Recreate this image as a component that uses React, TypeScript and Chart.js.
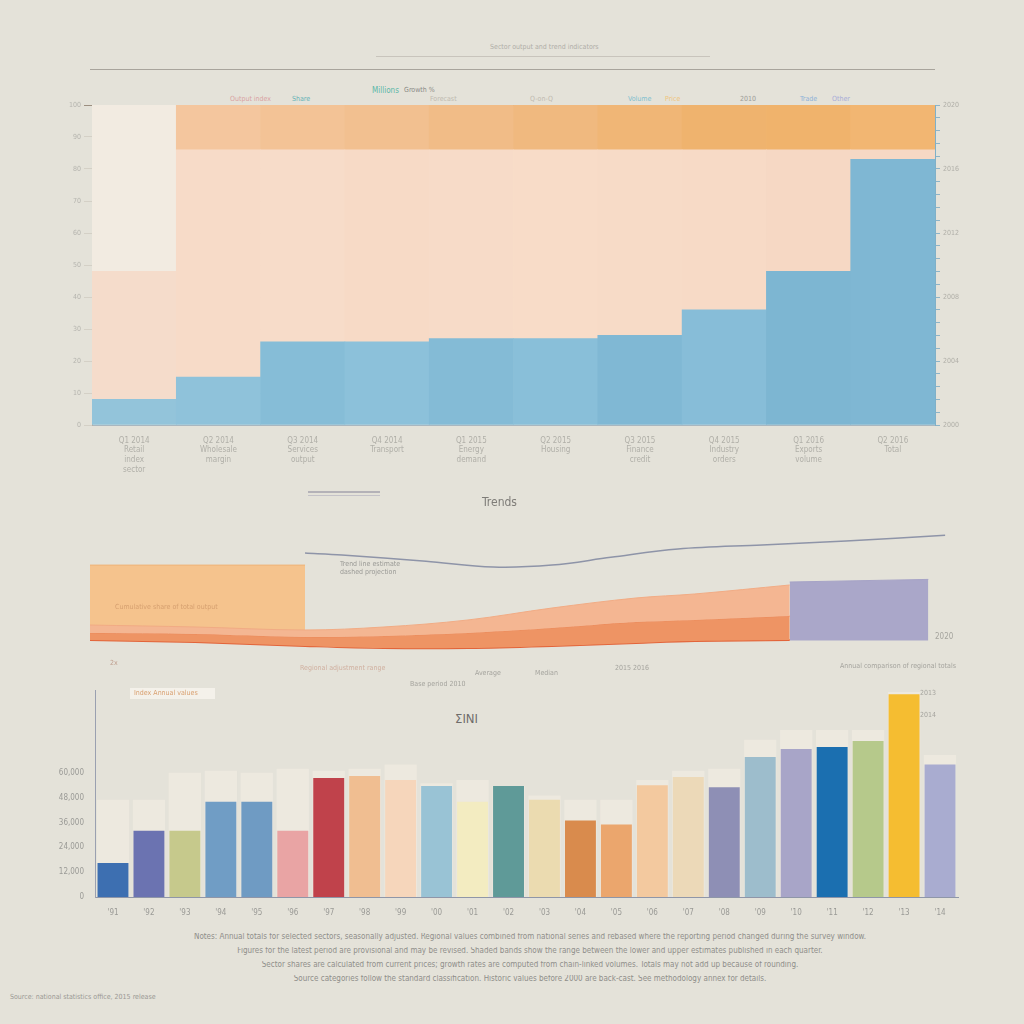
import React, { useEffect, useRef } from "react";
import { Chart, registerables } from "chart.js";

Chart.register(...registerables);

const FONT = "'DejaVu Sans Condensed', 'Liberation Sans Narrow', 'DejaVu Sans', sans-serif";
const BG = "#e4e2d9";

// ---------- Chart 1 (stacked bands) ----------
const topCategories = [
  ["Q1 2014", "Retail", "index", "sector"],
  ["Q2 2014", "Wholesale", "margin"],
  ["Q3 2014", "Services", "output"],
  ["Q4 2014", "Transport"],
  ["Q1 2015", "Energy", "demand"],
  ["Q2 2015", "Housing"],
  ["Q3 2015", "Finance", "credit"],
  ["Q4 2015", "Industry", "orders"],
  ["Q1 2016", "Exports", "volume"],
  ["Q2 2016", "Total"],
];
const blueBase = [8, 15, 26, 26, 27, 27, 28, 36, 48, 83];
const peachMid = [40, 71, 60, 60, 59, 59, 58, 50, 38, 3];
const orangeTop = [52, 14, 14, 14, 14, 14, 14, 14, 14, 14];
const blueColors = ["#93c4da", "#8fc2da", "#86bdd7", "#8cc1da", "#84bbd6", "#89bfd9", "#80b8d4", "#87bdd8", "#7db6d2", "#7fb7d3"];
const peachColors = ["#f5dccb", "#f7dbc8", "#f7dcc9", "#f7dac6", "#f7dbc8", "#f8dcc8", "#f7dbc7", "#f7dac6", "#f6d8c4", "#f6d8c4"];
const topColors = ["#f2ebe1", "#f4c69e", "#f3c396", "#f2c090", "#f1bc87", "#f0b97f", "#f0b676", "#efb36e", "#f0b36c", "#f2b672"];

// ---------- Chart 2 (flow bands) ----------
const blockLeftX = [0, 25.6];
const blockLeftY = [73, 73];
const blockLeftBase = 23;
const blockRightX = [83.3, 99.8];
const blockRightY = [60, 62];
const blockRightBase = 15;
const flowX = [0, 12.5, 25.6, 35, 45, 55, 65, 72, 83.3];
const flowTop = [26.9, 25.4, 23.1, 25.4, 30.8, 40, 47.7, 50.8, 57.7];
const flowMid = [20.8, 20, 17.7, 18.5, 20.8, 24.6, 29.2, 30.8, 33.8];
const flowBottom = [15.4, 13.8, 10.8, 9.2, 9.2, 10.8, 13.1, 14.6, 15.4];
const trendX = [25.6, 30, 40, 48, 55, 62, 70, 80, 90, 101.8];
const trendY = [82.3, 80.8, 76, 71.5, 73, 79, 85.4, 88.5, 91.5, 96];

// ---------- Chart 3 (bars) ----------
const barLabels = ["'91", "'92", "'93", "'94", "'95", "'96", "'97", "'98", "'99", "'00", "'01", "'02", "'03", "'04", "'05", "'06", "'07", "'08", "'09", "'10", "'11", "'12", "'13", "'14"];
const barValues = [16.4, 32, 32, 46, 46, 32, 57.5, 58.5, 56.5, 53.6, 46, 53.6, 47, 37, 35, 54, 58, 53, 67.6, 71.5, 72.5, 75.4, 98, 64];
const ghostValues = [47, 47, 60, 61, 60, 62, 61, 62, 64, 55, 56.5, 53.6, 49, 47, 47, 56.5, 61, 62, 76, 80.7, 80.7, 80.7, 99, 68.6];
const barColors = ["#3d6fb1", "#6b73b1", "#c6c98c", "#709dc5", "#6f9bc3", "#e9a4a4", "#c0424b", "#f0be91", "#f6d6bb", "#99c3d5", "#f3ecc1", "#5f9a98", "#ebdbb0", "#d98b4d", "#eba66d", "#f3c99f", "#ecd9b8", "#8e8fb5", "#9dbdcc", "#a8a5c8", "#1b6fb0", "#b6c98b", "#f5bd31", "#a9acd0"];
const bar3Ticks = ["0", "12,000", "24,000", "36,000", "48,000", "60,000"];

const notes = [
  "Notes: Annual totals for selected sectors, seasonally adjusted. Regional values combined from national series and rebased where the reporting period changed during the survey window.",
  "Figures for the latest period are provisional and may be revised. Shaded bands show the range between the lower and upper estimates published in each quarter.",
  "Sector shares are calculated from current prices; growth rates are computed from chain-linked volumes. Totals may not add up because of rounding.",
  "Source categories follow the standard classification. Historic values before 2000 are back-cast.                     See methodology annex for details.",
];

function useChart(ref: React.RefObject<HTMLCanvasElement | null>, make: () => any) {
  useEffect(() => {
    if (!ref.current) return;
    const chart = new Chart(ref.current, make());
    return () => chart.destroy();
  }, []);
}

function TopChart() {
  const ref = useRef<HTMLCanvasElement | null>(null);
  useChart(ref, () => ({
    type: "bar",
    data: {
      labels: topCategories,
      datasets: [
        { label: "Base", data: blueBase, backgroundColor: blueColors, borderWidth: 0 },
        { label: "Middle", data: peachMid, backgroundColor: peachColors, borderWidth: 0 },
        { label: "Top", data: orangeTop, backgroundColor: topColors, borderWidth: 0 },
      ],
    },
    options: {
      responsive: false,
      animation: false,
      layout: { padding: { top: 10 } },
      plugins: { legend: { display: false }, tooltip: { enabled: false } },
      datasets: { bar: { barPercentage: 1, categoryPercentage: 1 } },
      scales: {
        x: {
          stacked: true,
          grid: { display: false },
          border: { color: "#a9b7c0" },
          ticks: { color: "#b0afa8", font: { family: FONT, size: 8 }, maxRotation: 0, autoSkip: false },
          afterFit: (s: any) => { s.height = 70; },
        },
        y: {
          stacked: true,
          min: 0,
          max: 100,
          grid: { color: (c: any) => (c.tick && c.tick.value === 100 ? "#9c8f80" : "rgba(175,165,155,0.3)") },
          border: { color: "#b4b0a8" },
          ticks: { stepSize: 10, color: "#b5b4ae", font: { family: FONT, size: 7 } },
          afterFit: (s: any) => { s.width = 40; },
        },
        y2: {
          position: "right",
          min: 0,
          max: 100,
          grid: { drawOnChartArea: false, tickLength: 5, color: "#8db4c8" },
          border: { color: "#7fb0c8" },
          ticks: {
            stepSize: 4,
            autoSkip: false,
            color: "#b0afa8",
            font: { family: FONT, size: 7 },
            callback: (v: any) => (v % 20 === 0 ? String(2000 + v / 5) : ""),
          },
          afterFit: (s: any) => { s.width = 50; },
        },
      },
    },
  }));
  return <canvas ref={ref} width={933} height={400} style={{ position: "absolute", left: 52, top: 95, width: 933, height: 400 }} />;
}

function FlowChart() {
  const ref = useRef<HTMLCanvasElement | null>(null);
  const pts = (xs: number[], ys: number[]) => xs.map((x, i) => ({ x, y: ys[i] }));
  useChart(ref, () => ({
    type: "line",
    data: {
      datasets: [
        { label: "Trend", data: pts(trendX, trendY), borderColor: "#8e94a8", borderWidth: 1.5, pointRadius: 0, fill: false, tension: 0.35, clip: false },
        { label: "Upper", data: pts(flowX, flowTop), borderColor: "#f1ab84", borderWidth: 1, backgroundColor: "#f4b692", pointRadius: 0, fill: "+1", tension: 0.35 },
        { label: "Middle", data: pts(flowX, flowMid), borderColor: "#ec8a5a", borderWidth: 1, backgroundColor: "#ee9464", pointRadius: 0, fill: "+1", tension: 0.35 },
        { label: "Lower", data: pts(flowX, flowBottom), borderColor: "#e2643a", borderWidth: 2, pointRadius: 0, fill: false, tension: 0.35 },
        { label: "Block A", data: pts(blockLeftX, blockLeftY), borderColor: "#eeb277", borderWidth: 1, backgroundColor: "#f5c38d", pointRadius: 0, fill: { value: blockLeftBase } },
        { label: "Block B", data: pts(blockRightX, blockRightY), borderColor: "#a6a3c6", borderWidth: 1, backgroundColor: "#aaa7c9", pointRadius: 0, fill: { value: blockRightBase } },
      ],
    },
    options: {
      responsive: false,
      animation: false,
      layout: { padding: { left: 10, right: 30, top: 10, bottom: 10 } },
      plugins: { legend: { display: false }, tooltip: { enabled: false } },
      scales: {
        x: { type: "linear", min: 0, max: 100, display: false },
        y: { min: 0, max: 100, display: false },
      },
    },
  }));
  return <canvas ref={ref} width={880} height={150} style={{ position: "absolute", left: 80, top: 520, width: 880, height: 150 }} />;
}

function BarChart() {
  const ref = useRef<HTMLCanvasElement | null>(null);
  useChart(ref, () => ({
    type: "bar",
    data: {
      labels: barLabels,
      datasets: [
        { label: "Value", data: barValues, backgroundColor: barColors, borderWidth: 0, order: 1, grouped: false, barPercentage: 0.86, categoryPercentage: 1 },
        { label: "Range", data: ghostValues, backgroundColor: "rgba(245,240,230,0.5)", borderWidth: 0, order: 2, grouped: false, barPercentage: 0.9, categoryPercentage: 1 },
      ],
    },
    options: {
      responsive: false,
      animation: false,
      layout: { padding: { top: 10, right: 12 } },
      plugins: { legend: { display: false }, tooltip: { enabled: false } },
      scales: {
        x: {
          grid: { display: false },
          border: { color: "#8f96a8" },
          ticks: { color: "#9a9a96", font: { family: FONT, size: 8 }, maxRotation: 0, autoSkip: false },
          afterFit: (s: any) => { s.height = 25; },
        },
        y: {
          min: 0,
          max: 100,
          grid: { display: false },
          border: { color: "#9aa0b0" },
          ticks: {
            stepSize: 12,
            color: "#9a9a96",
            font: { family: FONT, size: 8 },
            callback: (v: any) => (v <= 60 ? bar3Ticks[v / 12] : ""),
          },
          afterFit: (s: any) => { s.width = 55; },
        },
      },
    },
  }));
  return <canvas ref={ref} width={930} height={242} style={{ position: "absolute", left: 40, top: 680, width: 930, height: 242 }} />;
}

const small = (x: number, y: number, text: string, color = "#a5a49e", size = 8): React.ReactElement => (
  <div key={`${x}-${y}-${text}`} style={{ position: "absolute", left: x, top: y, fontFamily: FONT, fontSize: size, color, whiteSpace: "nowrap", lineHeight: 1 }}>{text}</div>
);

export default function App() {
  return (
    <div style={{ position: "absolute", left: 0, top: 0, width: 1024, height: 1024, background: BG, overflow: "hidden" }}>
      {/* header */}
      {small(490, 44, "Sector output and trend indicators", "#b0aea8", 7)}
      <div style={{ position: "absolute", left: 376, top: 56, width: 334, height: 1, background: "#c8c4bc" }} />
      <div style={{ position: "absolute", left: 90, top: 69, width: 845, height: 1, background: "#a8a49c" }} />
      {small(230, 96, "Output index", "#d9a3a3", 7)}
      {small(292, 96, "Share", "#67b3b7", 7)}
      {small(372, 87, "Millions", "#5db7a8", 8)}
      {small(404, 87, "Growth %", "#8a8a86", 7)}
      {small(430, 96, "Forecast", "#c0bab0", 7)}
      {small(530, 96, "Q-on-Q", "#c0bab0", 7)}
      {small(628, 96, "Volume", "#7fbfcf", 7)}
      {small(665, 96, "Price", "#efc47c", 7)}
      {small(740, 96, "2010", "#9c9c98", 7)}
      {small(800, 96, "Trade", "#8fb2d8", 7)}
      {small(832, 96, "Other", "#a8acd8", 7)}
      <TopChart />
      {/* mid title */}
      <div style={{ position: "absolute", left: 308, top: 491, width: 72, height: 2, background: "#b4b2b8" }} />
      <div style={{ position: "absolute", left: 308, top: 495, width: 72, height: 1, background: "#c4c2c8" }} />
      {small(482, 496, "Trends", "#7e7c78", 12)}
      <FlowChart />
      {small(340, 561, "Trend line estimate", "#9a9a96", 7)}
      {small(340, 569, "dashed projection", "#9a9a96", 7)}
      {small(115, 604, "Cumulative share of total output", "#d6a070", 7)}
      {small(935, 633, "2020", "#a5a49e", 8)}
      {small(110, 660, "2x", "#c0a090", 7)}
      {small(300, 665, "Regional adjustment range", "#d0b0a0", 7)}
      {small(475, 670, "Average", "#a5a49e", 7)}
      {small(535, 670, "Median", "#a5a49e", 7)}
      {small(615, 665, "2015  2016", "#a5a49e", 7)}
      {small(840, 663, "Annual comparison of regional totals", "#a5a49e", 7)}
      {small(410, 681, "Base period 2010", "#a5a49e", 7)}
      <div style={{ position: "absolute", left: 130, top: 688, width: 85, height: 11, background: "#f4f1ea" }} />
      {small(134, 690, "Index  Annual values", "#d9a070", 7)}
      {small(455, 712, "ΣINI", "#6e6c6a", 13)}
      {small(920, 690, "2013", "#a5a49e", 7)}
      {small(920, 712, "2014", "#a5a49e", 7)}
      <BarChart />
      {notes.map((t, i) => (
        <div key={i} style={{ position: "absolute", left: 100, top: 933 + i * 14, width: 860, fontFamily: FONT, fontSize: 8, color: "#8f8e8a", whiteSpace: "nowrap", overflow: "hidden", textAlign: "center", lineHeight: 1 }}>{t}</div>
      ))}
      {small(10, 994, "Source: national statistics office, 2015 release", "#9a9994", 7)}
    </div>
  );
}
